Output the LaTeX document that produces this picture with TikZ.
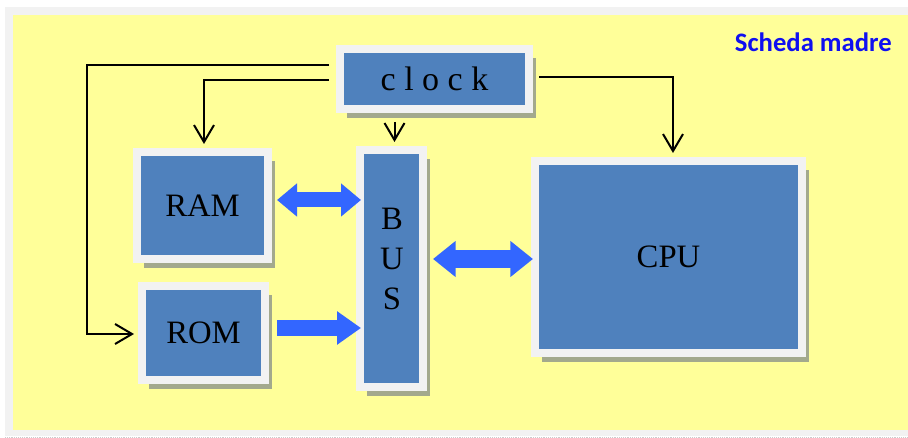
\documentclass[tikz,border=0pt]{standalone}
\usepackage{fontspec}
\setmainfont{Liberation Serif}
\newfontfamily\titlefont{Carlito}
\usetikzlibrary{calc, arrows.meta, shadows}
\definecolor{boardyellow}{HTML}{FFFF99}
\definecolor{framegray}{HTML}{F2F2F2}
\definecolor{chipblue}{HTML}{4F81BD}
\definecolor{busarrow}{HTML}{3366FF}
\definecolor{shadowgreen}{HTML}{A3A98D}
\definecolor{titleblue}{HTML}{1010F0}

\begin{document}
\begin{tikzpicture}[x=0.75pt, y=-0.75pt,
    chip/.style={fill=framegray, draw=framegray, line width=6pt, inner sep=0pt,
      drop shadow={fill=shadowgreen, opacity=1, shadow xshift=5.25pt, shadow yshift=-6.75pt},
      path picture={\fill[chipblue] ([shift={(3pt,-3pt)}]path picture bounding box.north west)
        rectangle ([shift={(-3pt,3pt)}]path picture bounding box.south east);},
      font=\fontsize{24.5}{30}\selectfont},
    wire/.style={line width=1.5pt, -{Straight Barb[length=12.75pt, width=15pt]}},
    fat/.style={draw=busarrow, line width=11.25pt}]
            \useasboundingbox (0,0) rectangle (908,438);
            \fill[framegray] (5,7) rectangle (910,436);
            \fill[boardyellow] (13,15) rectangle (910,430);
            \draw[densely dotted, gray!40] (5,437.5) -- (908,437.5);

            \node[chip, minimum width=141.75pt, minimum height=45pt, font=\fontsize{25.5}{30}\selectfont] (clock) at (434.5,79) {c l o c k\hspace{6pt}};
            \node[chip, minimum width=98.25pt, minimum height=80.25pt] (ram) at (202.5,205.5) {RAM};
            \node[chip, minimum width=92.25pt, minimum height=70.5pt] (rom) at (203.5,333) {ROM};
            \node[chip, minimum width=47.25pt, minimum height=177.75pt] (bus) at (391.5,268.5) {};
            \node[chip, minimum width=200.25pt, minimum height=144pt] (cpu) at (668.5,257) {CPU};
            \node[align=center, inner sep=0pt, font=\fontsize{24.5}{30}\selectfont] (buslabel) at (392,259) {B\\U\\S};
            \node[anchor=east, inner sep=0pt, text=titleblue, font=\titlefont\bfseries\fontsize{20}{24}\selectfont] (title) at (892,42) {Scheda madre};

            \draw[wire] ($(clock.west)+(-7,-14)$) -| ($(rom.west)+(-51,1)$) -- ($(rom.west)+(-4,1)$);
            \draw[wire] ($(clock.west)+(-7,1)$) -| ($(ram.north)+(1.5,-4)$);
            \draw[wire] ($(bus.north |- clock.south)+(3,9)$) -- ($(bus.north)+(3,-4)$);
            \draw[wire] ($(clock.east)+(6,-2)$) -| ($(cpu.north)+(4.5,-4)$);

            \draw[fat, {Triangle[length=15pt, width=24pt]}-{Triangle[length=15pt, width=24pt]}] ($(ram.east)+(5,-5.5)$) -- ($(bus.west |- ram.east)+(5,-5.5)$);
            \draw[fat, line width=13.5pt, {Triangle[length=17pt, width=26pt]}-{Triangle[length=17pt, width=26pt]}] ($(bus.east)+(6,-9.5)$) -- ($(cpu.west)+(2,2)$);
            \draw[fat, line width=12pt, -{Triangle[length=18pt, width=24pt]}] ($(rom.east)+(8,-5)$) -- ($(bus.west |- rom.east)+(5,-5)$);
        \end{tikzpicture}
\end{document}
